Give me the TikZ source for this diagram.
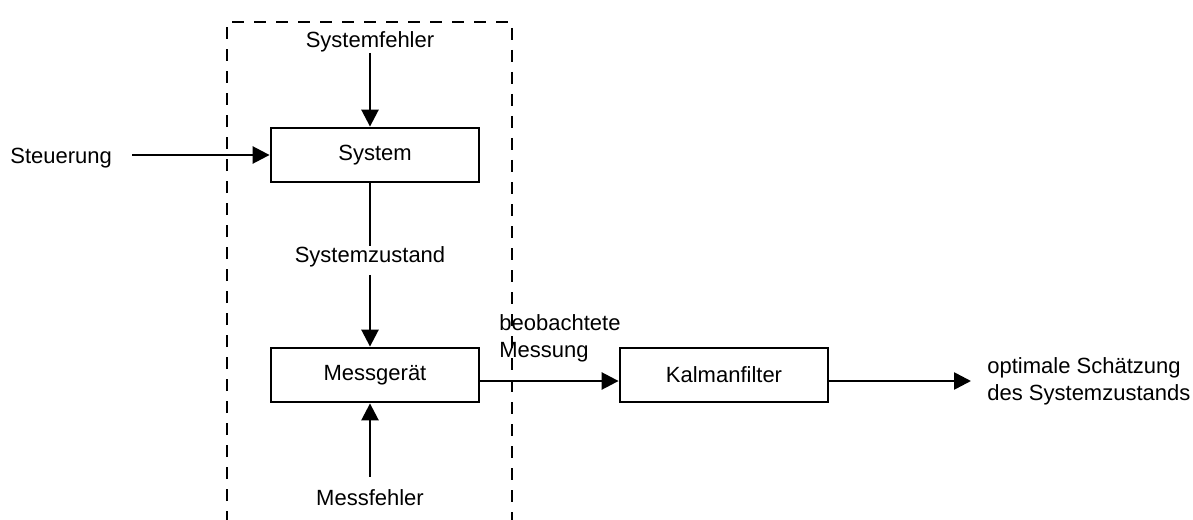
\documentclass[tikz,border=0pt]{standalone}
\usepackage{fontspec}
\setmainfont{Liberation Sans}
\usepackage{tikz}
\usetikzlibrary{arrows.meta,positioning,calc}

\begin{document}
\begin{tikzpicture}[
  x=0.5pt,y=-0.5pt,
  font=\fontsize{11}{13.5}\selectfont,
  blk/.style={draw,line width=1.4pt,minimum width=104pt,minimum height=27pt,
              inner sep=0pt},
  lbl/.style={inner sep=0pt},
  ar/.style={-{Triangle[length=8.5pt,width=8.5pt]},line width=1.3pt},
  grenze/.style={line width=1.45pt,dash pattern=on 6pt off 5pt}]
\useasboundingbox (0,0) rectangle (1193,519);

% Systemgrenze
\draw[grenze] (227,545) -- (227,22) -- (512,22) -- (512,545);

\node[blk] (sys) at (375,155) {System};
\node[blk] (mg) at (375,375) {Messgerät};
\node[blk] (kf) at (724,375) {Kalmanfilter};

\node[lbl,anchor=base] (sf) at (370,48) {Systemfehler};
\node[lbl,anchor=base west] (st) at (10,163) {Steuerung};
\node[lbl,anchor=base] (sz) at (370,262) {Systemzustand};
\node[lbl,anchor=base] (mf) at (370,505) {Messfehler};
\node[lbl,anchor=north west,align=left] (bm) at (499,314)
  {beobachtete\\Messung};
\node[lbl,anchor=west,align=left] (os) at (987,381)
  {optimale Schätzung\\des Systemzustands};

\draw[ar] (sf.south) -- (sf.south |- sys.north);
\draw[ar,shorten <=10pt] (st.east |- sys.west) -- (sys.west);
\draw[line width=1.3pt] (sz.north |- sys.south) -- (sz.north);
\draw[ar,shorten <=4pt] (sz.south) -- (sz.south |- mg.north);
\draw[ar,shorten <=6pt] (mf.north) -- (mf.north |- mg.south);
\draw[ar] ([yshift=-3pt]mg.east) -- ([yshift=-3pt]kf.west);
\draw[ar,shorten >=8pt] ([yshift=-3pt]kf.east) -- ([yshift=-3pt]kf.east -| os.west);
\end{tikzpicture}
\end{document}
